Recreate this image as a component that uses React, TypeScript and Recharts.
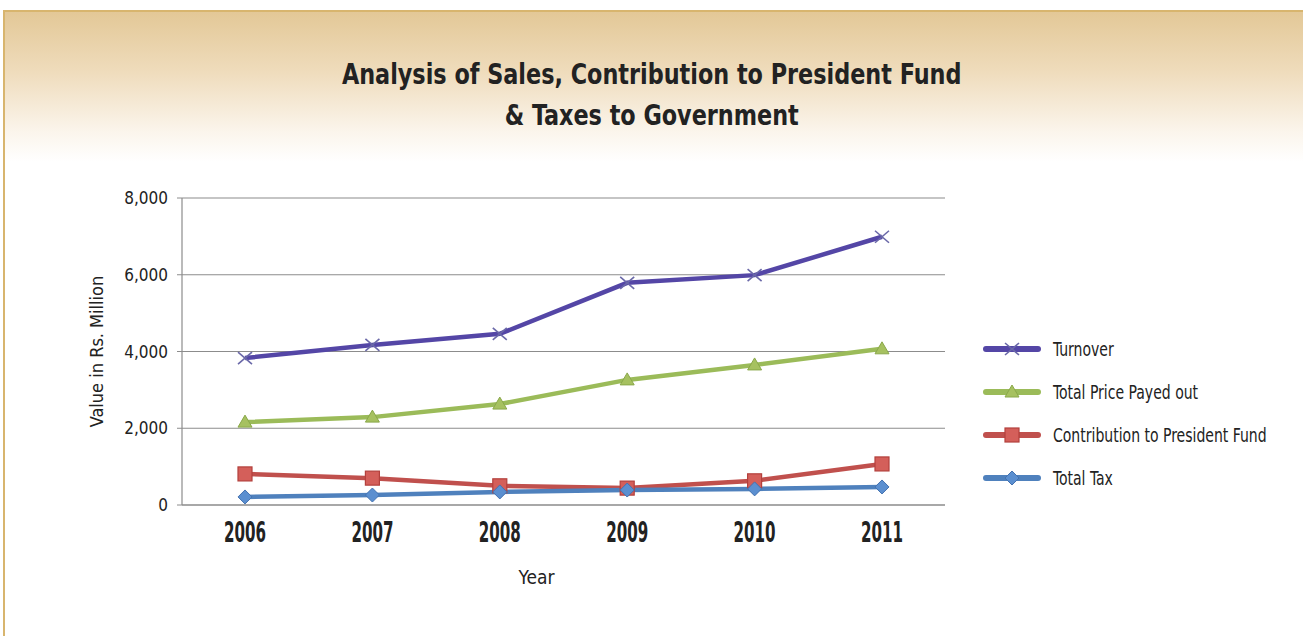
import React from "react";
import {
  LineChart,
  Line,
  XAxis,
  YAxis,
  CartesianGrid,
} from "recharts";

const years = ["2006", "2007", "2008", "2009", "2010", "2011"];
const turnover = [3830, 4170, 4460, 5790, 5990, 6990];
const totalPrice = [2160, 2290, 2630, 3260, 3650, 4070];
const contribution = [810, 700, 500, 440, 630, 1070];
const totalTax = [210, 260, 340, 390, 420, 470];
const yTicks = [0, 2000, 4000, 6000, 8000];

const FONT = "'Liberation Sans Narrow', 'DejaVu Sans Condensed', sans-serif";

type Marker = "cross" | "triangle" | "square" | "diamond";

const series: { key: string; name: string; color: string; marker: Marker }[] = [
  { key: "turnover", name: "Turnover", color: "#5446a6", marker: "cross" },
  { key: "totalPrice", name: "Total Price Payed out", color: "#9bbb59", marker: "triangle" },
  { key: "contribution", name: "Contribution to President Fund", color: "#c0504d", marker: "square" },
  { key: "totalTax", name: "Total Tax", color: "#4f81bd", marker: "diamond" },
];

const data = years.map((year, i) => ({
  year,
  turnover: turnover[i],
  totalPrice: totalPrice[i],
  contribution: contribution[i],
  totalTax: totalTax[i],
}));

const MarkerShape = ({ cx, cy, marker }: { cx: number; cy: number; marker: Marker }) => {
  if (cx == null || cy == null) return null;
  switch (marker) {
    case "cross":
      return (
        <g stroke="#6a68a8" strokeWidth={1.6}>
          <line x1={cx - 7} y1={cy - 6} x2={cx + 7} y2={cy + 6} />
          <line x1={cx - 7} y1={cy + 6} x2={cx + 7} y2={cy - 6} />
        </g>
      );
    case "triangle":
      return (
        <polygon
          points={`${cx},${cy - 7} ${cx + 7},${cy + 5} ${cx - 7},${cy + 5}`}
          fill="#a6c160"
          stroke="#8aa84a"
          strokeWidth={1}
        />
      );
    case "square":
      return (
        <rect x={cx - 7} y={cy - 7} width={14} height={14} fill="#d45f5a" stroke="#b3403c" strokeWidth={1.2} />
      );
    case "diamond":
      return (
        <polygon
          points={`${cx},${cy - 7} ${cx + 7},${cy} ${cx},${cy + 7} ${cx - 7},${cy}`}
          fill="#5b8fd0"
          stroke="#4472b0"
          strokeWidth={1}
        />
      );
  }
  return null;
};

// condensed, tall year labels
const YearTick = ({ x, y, payload }: any) => (
  <text
    transform={`translate(${x},${y + 29}) scale(0.6,1)`}
    textAnchor="middle"
    fontSize={28}
    fontWeight="bold"
    fill="#222"
  >
    {payload.value}
  </text>
);

const LegendBox = () => (
  <div style={{ position: "absolute", left: 980, top: 327, fontFamily: FONT, fontSize: 19, color: "#222" }}>
    {series.map((s) => (
      <div key={s.key} style={{ display: "flex", alignItems: "center", height: 43 }}>
        <svg width={64} height={28} style={{ marginRight: 9 }}>
          <line x1={6} y1={14} x2={58} y2={14} stroke={s.color} strokeWidth={6} strokeLinecap="round" />
          <MarkerShape cx={32} cy={14} marker={s.marker} />
        </svg>
        <span style={{ display: "inline-block", transform: "scaleX(0.82)", transformOrigin: "left center", whiteSpace: "nowrap" }}>
          {s.name}
        </span>
      </div>
    ))}
  </div>
);

export default function App() {
  return (
    <div
      style={{
        position: "absolute",
        left: 0,
        top: 0,
        width: 1303,
        height: 636,
        overflow: "hidden",
        background: "#fff",
      }}
    >
      <div
        style={{
          position: "absolute",
          left: 3,
          top: 10,
          width: 1310,
          height: 640,
          border: "2px solid #d8b56e",
          boxSizing: "border-box",
          background: "linear-gradient(to bottom, #e3c897 0px, #efdcbc 60px, #fbf5ec 120px, #ffffff 150px, #ffffff 100%)",
        }}
      />
      <div
        style={{
          position: "absolute",
          left: 0,
          width: 1303,
          top: 54,
          textAlign: "center",
          fontFamily: FONT,
          fontWeight: "bold",
          fontSize: 29,
          lineHeight: "41px",
          color: "#222",
          transform: "scaleX(0.856)",
          transformOrigin: "653px 0",
        }}
      >
        Analysis of Sales, Contribution to President Fund
        <br />
        &amp; Taxes to Government
      </div>
      <div style={{ position: "absolute", left: 0, top: 0 }}>
        <LineChart
          width={1303}
          height={636}
          data={data}
          margin={{ top: 198, right: 358, bottom: 91, left: 102 }}
          style={{ fontFamily: FONT }}
        >
          <CartesianGrid vertical={false} stroke="#8c8c8c" strokeWidth={1.2} />
          <XAxis
            dataKey="year"
            height={40}
            padding={{ left: 63, right: 63 }}
            tickLine={false}
            axisLine={{ stroke: "#8c8c8c", strokeWidth: 1.2 }}
            tick={<YearTick />}
            label={{ value: "Year", position: "insideBottom", offset: -39, dx: -27, fontSize: 19, fill: "#222" }}
          />
          <YAxis
            width={80}
            domain={[0, 8000]}
            ticks={yTicks}
            interval={0}
            tickFormatter={(v) => Number(v).toLocaleString("en-US")}
            tick={{ fontSize: 17, fill: "#222" }}
            tickSize={5}
            tickMargin={9}
            tickLine={{ stroke: "#8c8c8c" }}
            axisLine={{ stroke: "#8c8c8c", strokeWidth: 1.2 }}
            label={{
              value: "Value in Rs. Million",
              angle: -90,
              position: "insideLeft",
              dx: -10,
              fontSize: 18,
              fill: "#222",
              style: { textAnchor: "middle" },
            }}
          />
          {series.map((s) => (
            <Line
              key={s.key}
              type="linear"
              dataKey={s.key}
              name={s.name}
              stroke={s.color}
              strokeWidth={4.5}
              isAnimationActive={false}
              dot={(p: any) => <MarkerShape key={`${s.key}-${p.index}`} cx={p.cx} cy={p.cy} marker={s.marker} />}
              activeDot={false}
            />
          ))}
        </LineChart>
      </div>
      <LegendBox />
    </div>
  );
}
